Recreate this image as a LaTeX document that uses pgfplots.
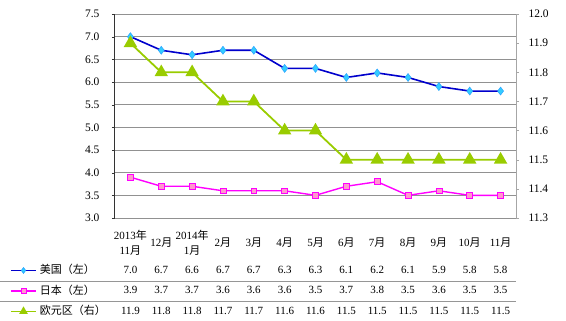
\documentclass[border=0pt]{standalone}
\usepackage{pgfplots}
\pgfplotsset{compat=1.18}
\usepackage{fontspec}
\setmainfont{Liberation Serif}
\newfontfamily\cjk{Noto Sans CJK SC}
\definecolor{usline}{RGB}{0,0,204}
\definecolor{usmark}{RGB}{51,204,255}
\definecolor{jpline}{RGB}{255,0,255}
\definecolor{jpmark}{RGB}{255,153,204}
\definecolor{euline}{RGB}{153,204,0}
\definecolor{gridc}{RGB}{150,150,150}
\definecolor{gridl}{RGB}{145,145,145}
\newcommand{\cj}[1]{{\cjk #1}}
\begin{document}
\begin{tikzpicture}
% horizontal grid lines at the left-axis ticks (3.0 ... 7.5, 0.5 apart over 204bp)
\foreach \k in {0,...,9}
  \draw[gridl, line width=0.9bp] (0bp,{\k*22.667bp}) -- (401bp,{\k*22.667bp});
\pgfplotsset{
  common/.style={
    at={(0,0)}, anchor=south west,
    scale only axis, width=401bp, height=204bp,
    xmin=-0.5, xmax=12.5,
    /pgf/number format/assume math mode=true,
    tick align=outside, major tick length=3bp,
    yticklabel style={/pgf/number format/fixed, /pgf/number format/fixed zerofill, /pgf/number format/precision=1, font=\fontsize{11.5bp}{13bp}\selectfont},
  },
}
\begin{axis}[common,
  ymin=3, ymax=7.5,
  axis y line*=left, axis x line*=bottom,
  x axis line style={draw=none},
  xtick={0,...,12},
  xticklabels={{2013\cj{年}\\11\cj{月}},{12\cj{月}},{2014\cj{年}\\1\cj{月}},{2\cj{月}},{3\cj{月}},{4\cj{月}},{5\cj{月}},{6\cj{月}},{7\cj{月}},{8\cj{月}},{9\cj{月}},{10\cj{月}},{11\cj{月}}},
  major x tick style={draw=none},
  xticklabel style={anchor=center, yshift=-22bp, align=center, font=\fontsize{11bp}{15bp}\selectfont},
  ytick={3,3.5,4,4.5,5,5.5,6,6.5,7,7.5},
  yticklabel style={xshift=-9bp},
  y axis line style={black!80, line width=1bp},
  major y tick style={black!80},
]
\addplot[usline, line width=1.6bp, mark=diamond*, mark size=4pt, mark options={fill=usmark, draw=usmark!80!blue, line width=0.5bp}]
  coordinates {(0,7.0)(1,6.7)(2,6.6)(3,6.7)(4,6.7)(5,6.3)(6,6.3)(7,6.1)(8,6.2)(9,6.1)(10,5.9)(11,5.8)(12,5.8)};
\addplot[jpline, line width=1.4bp, mark=square*, mark size=3pt, mark options={fill=jpmark, draw=jpline, line width=0.6bp}]
  coordinates {(0,3.9)(1,3.7)(2,3.7)(3,3.6)(4,3.6)(5,3.6)(6,3.5)(7,3.7)(8,3.8)(9,3.5)(10,3.6)(11,3.5)(12,3.5)};
\end{axis}
\begin{axis}[common,
  ymin=11.3, ymax=12.0,
  axis y line*=right, axis x line=none,
  ytick={11.3,11.4,11.5,11.6,11.7,11.8,11.9,12.0},
  yticklabel style={xshift=6bp},
  y axis line style={gray!70, line width=1bp},
  major y tick style={gray!70},
  legend image code/.code={\draw[mark repeat=2,mark phase=2,#1] plot coordinates {(0bp,0bp) (12.5bp,0bp) (25bp,0bp)};},
  legend style={at={([xshift=-105bp,yshift=-47bp]axis description cs:0,0)}, anchor=north west, draw=none, fill=none, inner sep=0pt, row sep=10bp, column sep=3bp, font=\cjk\fontsize{11bp}{13bp}\selectfont, nodes={inner sep=0pt, text height=8.5bp, text depth=2bp}},
  legend cell align=left,
]
\addlegendimage{usline, line width=1.6bp, mark=diamond*, mark size=3pt, mark options={fill=usmark, draw=usmark!80!blue, line width=0.5bp}}
\addlegendentry{美国（左）}
\addlegendimage{jpline, line width=1.4bp, mark=square*, mark size=2.5pt, mark options={fill=jpmark, draw=jpline, line width=0.6bp}}
\addlegendentry{日本（左）}
\addlegendimage{euline, line width=1.6bp, mark=triangle*, mark size=3.5pt, mark options={fill=euline, draw=euline}}
\addlegendentry{欧元区（右）}
\addplot[euline, line width=1.8bp, mark=triangle*, mark size=6pt, mark options={fill=euline, draw=euline}, forget plot]
  coordinates {(0,11.9)(1,11.8)(2,11.8)(3,11.7)(4,11.7)(5,11.6)(6,11.6)(7,11.5)(8,11.5)(9,11.5)(10,11.5)(11,11.5)(12,11.5)};
\end{axis}
% data table below the chart
\draw[gridc, line width=0.8bp] (-115bp,-63bp) -- (401bp,-63bp);
\draw[gridc, line width=0.8bp] (-115bp,-83bp) -- (401bp,-83bp);
\foreach \v [count=\i from 0] in {7.0,6.7,6.6,6.7,6.7,6.3,6.3,6.1,6.2,6.1,5.9,5.8,5.8}
  \node[font=\fontsize{11bp}{13bp}\selectfont, inner sep=0pt] at ({(\i+0.5)*30.846bp},-52bp) {\v};
\foreach \v [count=\i from 0] in {3.9,3.7,3.7,3.6,3.6,3.6,3.5,3.7,3.8,3.5,3.6,3.5,3.5}
  \node[font=\fontsize{11bp}{13bp}\selectfont, inner sep=0pt] at ({(\i+0.5)*30.846bp},-72bp) {\v};
\foreach \v [count=\i from 0] in {11.9,11.8,11.8,11.7,11.7,11.6,11.6,11.5,11.5,11.5,11.5,11.5,11.5}
  \node[font=\fontsize{11bp}{13bp}\selectfont, inner sep=0pt] at ({(\i+0.5)*30.846bp},-93bp) {\v};
\pgfresetboundingbox
\useasboundingbox (-115bp,-103bp) rectangle (451bp,218bp);
\end{tikzpicture}
\end{document}
